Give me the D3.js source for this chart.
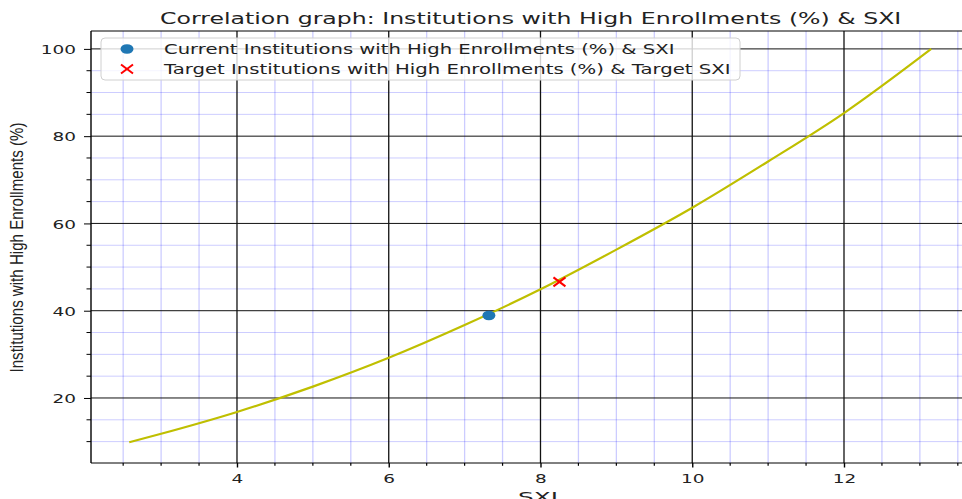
<!DOCTYPE html>
<html><head><meta charset="utf-8">
<script src="https://cdn.jsdelivr.net/npm/d3@7"></script>
<style>body{margin:0;background:#fff}svg{display:block}</style>
</head><body>
<svg id="c" width="962" height="499"></svg>
<script>
// ---- data ----
const curveX = [2.58, 3, 4, 5, 6, 7, 8, 9, 10, 11, 12, 13.15];
const curveY = [9.85, 11.8, 16.8, 22.6, 29.2, 36.7, 44.9, 54.0, 63.6, 74.2, 85.3, 100];
const currentPoint = [7.32, 38.9];
const targetPoint = [8.25, 46.6];
const xTicks = [4, 6, 8, 10, 12];
const yTicks = [20, 40, 60, 80, 100];
const titleText = "Correlation graph: Institutions with High Enrollments (%) & SXI";
const legendLabels = ["Current Institutions with High Enrollments (%) & SXI",
                      "Target Institutions with High Enrollments (%) & Target SXI"];
const xLabel = "SXI";
const yLabel = "Institutions with High Enrollments  (%)";

const svg = d3.select("#c");
const L = 91, R = 965.4, T = 31, B = 463;
const x = d3.scaleLinear().domain([2.076, 13.6]).range([L, R]);
const y = d3.scaleLinear().domain([5.1, 104.1]).range([B, T]);
const SX = 1.42; // horizontal stretch of the picture

svg.append("clipPath").attr("id","pc").append("rect")
  .attr("x", L).attr("y", T).attr("width", R - L).attr("height", B - T);

const g = svg.append("g");
// minor grid
const xMinor = d3.range(2.5, 13.6, 0.5).filter(v => !xTicks.includes(v));
const yMinor = d3.range(10, 104, 5).filter(v => !yTicks.includes(v));
g.selectAll(".xm").data(xMinor).join("line")
  .attr("x1", d => x(d)).attr("x2", d => x(d)).attr("y1", T).attr("y2", B)
  .attr("stroke", "rgba(0,0,255,0.2)").attr("stroke-width", 1.3);
g.selectAll(".ym").data(yMinor).join("line")
  .attr("x1", L).attr("x2", R).attr("y1", d => y(d)).attr("y2", d => y(d))
  .attr("stroke", "rgba(0,0,255,0.2)").attr("stroke-width", 1);
// major grid
g.selectAll(".xM").data(xTicks).join("line")
  .attr("x1", d => x(d)).attr("x2", d => x(d)).attr("y1", T).attr("y2", B)
  .attr("stroke", "#111").attr("stroke-width", 1.3);
g.selectAll(".yM").data(yTicks).join("line")
  .attr("x1", L).attr("x2", R).attr("y1", d => y(d)).attr("y2", d => y(d))
  .attr("stroke", "#111").attr("stroke-width", 1);

// curve
const pts = curveX.map((v, i) => [v, curveY[i]]);
svg.append("path").datum(pts)
  .attr("clip-path", "url(#pc)")
  .attr("d", d3.line().x(d => x(d[0])).y(d => y(d[1])).curve(d3.curveMonotoneX))
  .attr("fill", "none").attr("stroke", "#bfbf00").attr("stroke-width", 2.2);

// points
svg.append("ellipse").attr("cx", x(currentPoint[0])).attr("cy", y(currentPoint[1]))
  .attr("rx", 6.5).attr("ry", 4.8).attr("fill", "#1f77b4");
function xMark(cx, cy, color) {
  const gg = svg.append("g").attr("stroke", color).attr("stroke-width", 2);
  gg.append("line").attr("x1", cx - 6).attr("x2", cx + 6).attr("y1", cy - 4.5).attr("y2", cy + 4.5);
  gg.append("line").attr("x1", cx - 6).attr("x2", cx + 6).attr("y1", cy + 4.5).attr("y2", cy - 4.5);
}
xMark(x(targetPoint[0]), y(targetPoint[1]), "red");

// spines
svg.append("line").attr("x1", L).attr("x2", L).attr("y1", T).attr("y2", B).attr("stroke", "#000").attr("stroke-width", 1.4);
svg.append("line").attr("x1", L).attr("x2", 962).attr("y1", B).attr("y2", B).attr("stroke", "#000").attr("stroke-width", 1);
svg.append("line").attr("x1", L).attr("x2", 962).attr("y1", T).attr("y2", T).attr("stroke", "#000").attr("stroke-width", 1);

// ticks
const xAxis = d3.axisBottom(x).tickValues(xTicks).tickSize(4.5).tickFormat(d3.format("d"));
const ax = svg.append("g").attr("transform", `translate(0,${B})`).call(xAxis);
ax.select(".domain").remove();
ax.selectAll(".tick line").attr("stroke", "#000").attr("stroke-width", 1.4);
ax.selectAll(".tick text").attr("font-family", "DejaVu Sans").attr("font-size", 13).attr("fill", "#222")
  .attr("y", 0).attr("dy", 0)
  .attr("transform", `translate(0,19.5) scale(${SX},1)`);
svg.selectAll(".xmt").data(xMinor).join("line")
  .attr("x1", d => x(d)).attr("x2", d => x(d)).attr("y1", B).attr("y2", B + 2.8)
  .attr("stroke", "#000").attr("stroke-width", 1.2);

const yAxis = d3.axisLeft(y).tickValues(yTicks).tickSize(7).tickFormat(d3.format("d"));
const ay = svg.append("g").attr("transform", `translate(${L},0)`).call(yAxis);
ay.select(".domain").remove();
ay.selectAll(".tick line").attr("stroke", "#000").attr("stroke-width", 1);
ay.selectAll(".tick text").attr("font-family", "DejaVu Sans").attr("font-size", 13).attr("fill", "#222")
  .attr("x", 0).attr("dy", "0.36em").attr("text-anchor", "end")
  .attr("transform", `translate(-15,0) scale(${SX},1)`);
svg.selectAll(".ymt").data(yMinor).join("line")
  .attr("x1", L - 4.5).attr("x2", L).attr("y1", d => y(d)).attr("y2", d => y(d))
  .attr("stroke", "#000").attr("stroke-width", 1);

// fitted text helper
function fitText(txt, x0, yb, size, family, width, anchor) {
  const t = svg.append("text").text(txt).attr("font-family", family).attr("font-size", size)
    .attr("fill", "#222").attr("text-anchor", anchor || "start");
  const w = t.node().getComputedTextLength();
  t.attr("transform", `translate(${x0},${yb}) scale(${width / w},1)`);
  return t;
}
fitText(titleText, 160, 23.5, 16, "DejaVu Sans", 742);

// legend
svg.append("rect").attr("x", 101).attr("y", 38).attr("width", 639).attr("height", 42).attr("rx", 4)
  .attr("fill", "rgba(255,255,255,0.8)").attr("stroke", "#d0d0d0").attr("stroke-width", 1);
svg.append("ellipse").attr("cx", 127).attr("cy", 49).attr("rx", 6.5).attr("ry", 4.8).attr("fill", "#1f77b4");
xMark(127, 69, "red");
fitText(legendLabels[0], 164, 53.5, 14, "DejaVu Sans", 511);
fitText(legendLabels[1], 164, 73.5, 14, "DejaVu Sans", 567);

// x label (cut off at the bottom edge, as in the reference)
fitText(xLabel, 538, 502, 14, "DejaVu Sans", 40, "middle");
// y label
const yl = svg.append("text").text(yLabel).attr("font-family", "Liberation Sans").attr("font-size", 13.5)
  .attr("fill", "#222").attr("text-anchor", "middle");
const ylw = yl.node().getComputedTextLength();
yl.attr("transform", `translate(23,${(T + B) / 2 + 0.5}) scale(${SX},1) rotate(-90) scale(${250 / ylw},1)`);
</script>
</body></html>
